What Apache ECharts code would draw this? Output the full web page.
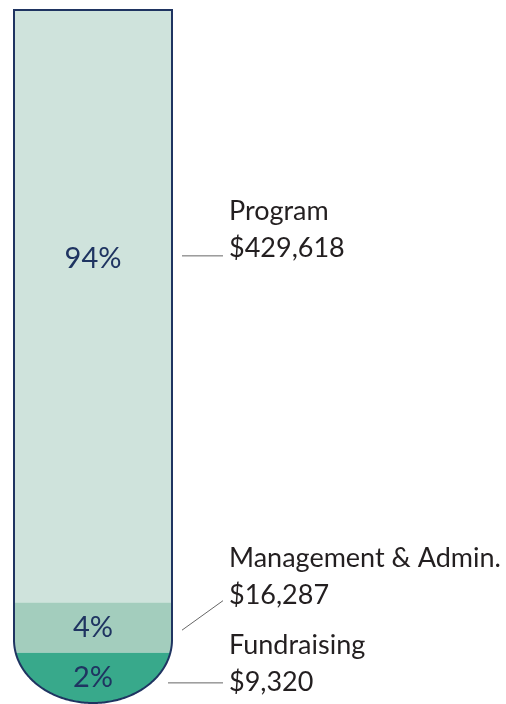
<!DOCTYPE html>
<html>
<head>
<meta charset="utf-8">
<script src="https://cdn.jsdelivr.net/npm/echarts@6/dist/echarts.min.js"></script>
<style>
  html, body { margin: 0; padding: 0; background: #fff; }
  #container { width: 506px; height: 704px; }
</style>
</head>
<body>
<div id="container"></div>
<script>
// expense breakdown
var names = ["Program", "Management & Admin.", "Fundraising"];
var amounts = [429618, 16287, 9320];
var percents = ["94%", "4%", "2%"];

var colors = ["#cfe3dc", "#a3cdbd", "#38a98b"];
var navy = "#1f3461";
var FONT = "Lato, 'DejaVu Sans', sans-serif";
var LABEL_SIZE = 27;
var PCT_SIZE = 29;

// small slices get a minimum visible height in the tube
var total = amounts.reduce(function (a, b) { return a + b; }, 0);
var minShare = 0.08;
var shown = amounts.map(function (a) { return Math.max(a, total * minShare); });
var axisMax = shown.reduce(function (a, b) { return a + b; }, 0);

var segData = [];
var acc = 0;
shown.forEach(function (v, i) {
  segData.push([acc, acc + v, i]);
  acc += v;
});

// callout tweaks per slice (offsets in px)
var anchorFrac = [0.42, 0.5, 0.5];
var amountDy = [-2, -24, 13];
var lineFrom = [[10, -3], [10, 2.5], [-4, 5]];
var lineToDy = [-1, -3, -8];

var chartDom = document.getElementById("container");
var myChart = echarts.init(chartDom);

// tube geometry from the axes
function tube(api) {
  var tl = api.coord([0, 0]);
  var br = api.coord([1, axisMax]);
  var x0 = tl[0], x1 = br[0], top = tl[1], bottom = br[1];
  var rx = (x1 - x0) / 2;
  var ry = rx * 0.8;
  return { x0: x0, x1: x1, top: top, bottom: bottom, cx: x0 + rx, rx: rx, ry: ry, yc: bottom - ry };
}

function halfWidth(t, y) {
  if (y <= t.yc) return t.rx;
  var k = (y - t.yc) / t.ry;
  if (k >= 1) return 0;
  return t.rx * Math.sqrt(1 - k * k);
}

function bandPoints(t, y1, y2) {
  var ys = [y1, y2];
  if (t.yc > y1 && t.yc < y2) ys.push(t.yc);
  // sample the rounded bottom by angle so the curve stays smooth
  var n = 90;
  for (var j = 0; j <= n; j++) {
    var y = t.yc + t.ry * Math.sin(Math.PI / 2 * j / n);
    if (y > y1 && y < y2) ys.push(y);
  }
  ys.sort(function (a, b) { return a - b; });
  var left = [], right = [];
  ys.forEach(function (y) {
    var h = halfWidth(t, y);
    left.push([t.cx - h, y]);
    right.push([t.cx + h, y]);
  });
  return left.concat(right.reverse());
}

var option = {
  animation: false,
  grid: { left: 14, top: 10, width: 158, height: 693 },
  xAxis: { type: "value", min: 0, max: 1, show: false },
  yAxis: { type: "value", min: 0, max: axisMax, inverse: true, show: false },
  series: [
    {
      type: "custom",
      clip: false,
      data: segData,
      encode: { y: [0, 1] },
      renderItem: function (params, api) {
        var t = tube(api);
        var i = api.value(2);
        var y1 = api.coord([0, api.value(0)])[1];
        var y2 = api.coord([0, api.value(1)])[1];
        var anchorY = y1 + (y2 - y1) * anchorFrac[i];
        var amountBase = anchorY + amountDy[i];
        var nameBase = amountBase - 37;
        var tx = 229;
        return {
          type: "group",
          children: [
            {
              type: "polygon",
              shape: { points: bandPoints(t, y1, y2) },
              style: { fill: colors[i] }
            },
            {
              type: "text",
              style: {
                text: percents[i], x: t.cx, y: anchorY,
                align: "center", verticalAlign: "middle",
                font: PCT_SIZE + "px " + FONT, fill: navy
              }
            },
            {
              type: "line",
              shape: {
                x1: t.x1 + lineFrom[i][0], y1: anchorY + lineFrom[i][1],
                x2: 223, y2: amountBase + lineToDy[i]
              },
              style: { stroke: "#666", lineWidth: 1 }
            },
            {
              type: "text",
              style: {
                text: names[i], x: tx, y: nameBase - 0.3 * LABEL_SIZE,
                align: "left", verticalAlign: "middle",
                font: LABEL_SIZE + "px " + FONT, fill: "#231f20"
              }
            },
            {
              type: "text",
              style: {
                text: "$" + amounts[i].toLocaleString("en-US"), x: tx, y: amountBase - 0.3 * LABEL_SIZE,
                align: "left", verticalAlign: "middle",
                font: LABEL_SIZE + "px " + FONT, fill: "#231f20"
              }
            }
          ]
        };
      }
    },
    {
      // tube outline
      type: "custom",
      clip: false,
      z: 5,
      data: [[0, axisMax]],
      encode: { y: [0, 1] },
      renderItem: function (params, api) {
        var t = tube(api);
        return {
          type: "polygon",
          shape: { points: bandPoints(t, t.top, t.bottom) },
          style: { fill: "none", stroke: navy, lineWidth: 2 }
        };
      }
    }
  ]
};

option && myChart.setOption(option);
</script>
</body>
</html>
